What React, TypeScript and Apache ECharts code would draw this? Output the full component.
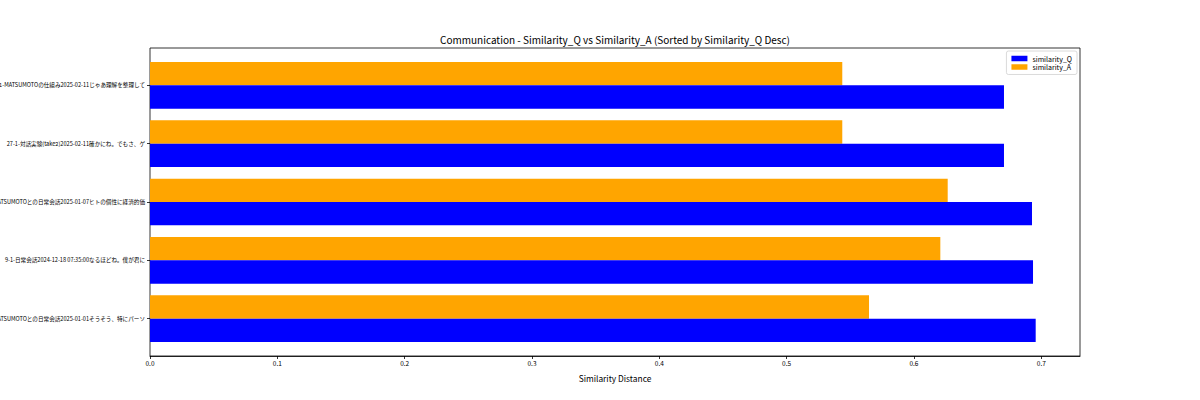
import { useEffect, useRef } from 'react'
import * as echarts from 'echarts'

// categories listed top to bottom, as in the picture
const categories = [
  '28-1-MATSUMOTOの仕組み2025-02-11じゃあ理解を整理して',
  '27-1-対話実験(take2)2025-02-11確かにね。でもさ、ゲ',
  '30-1-MATSUMOTOとの日常会話2025-01-07ヒトの個性に経済的価',
  '9-1-日常会話2024-12-18 07:35:00なるほどね。僕が君に',
  '26-1-MATSUMOTOとの日常会話2025-01-01そうそう、特にパーソ',
]
const similarityQ = [0.6707, 0.6707, 0.6927, 0.6935, 0.6956]
const similarityA = [0.5437, 0.5437, 0.6265, 0.6207, 0.5647]
const xTicks = [0, 0.1, 0.2, 0.3, 0.4, 0.5, 0.6, 0.7]
const xMax = 0.7304

const FONT = 'Noto Sans CJK JP'

export default function App() {
  const chartRef = useRef<HTMLDivElement>(null)

  useEffect(() => {
    if (!chartRef.current) return
    const chart = echarts.init(chartRef.current, undefined, { renderer: 'svg' })

    const option = {
      animation: false,
      textStyle: { fontFamily: FONT },
      title: {
        text: 'Communication - Similarity_Q vs Similarity_A (Sorted by Similarity_Q Desc)',
        left: 615,
        top: 34,
        padding: 0,
        textAlign: 'center',
        textStyle: { fontSize: 10, fontWeight: 'normal', color: '#000', fontFamily: FONT },
      },
      legend: {
        data: ['similarity_Q', 'similarity_A'],
        orient: 'vertical',
        right: 123,
        top: 51,
        icon: 'rect',
        itemWidth: 16,
        itemHeight: 5.5,
        itemGap: 1.5,
        padding: [4, 5, 4, 5],
        backgroundColor: '#fff',
        borderColor: '#d0d0d0',
        borderWidth: 0.8,
        borderRadius: 2,
        textStyle: { fontSize: 7, color: '#000', fontFamily: FONT },
      },
      grid: [
        { left: 150, width: 930, top: 56.17, height: 291.67, outerBoundsMode: 'none', containLabel: false },
        {
          left: 150, width: 930, top: 48, height: 308,
          outerBoundsMode: 'none', containLabel: false,
          show: true, borderColor: '#000', borderWidth: 0.8, backgroundColor: 'transparent',
        },
      ],
      xAxis: [
        { type: 'value', gridIndex: 0, min: 0, max: xMax, show: false },
        {
          type: 'value',
          gridIndex: 1,
          min: 0,
          max: xMax,
          name: 'Similarity Distance',
          nameLocation: 'middle',
          nameGap: 18,
          nameTextStyle: { fontSize: 8.4, color: '#000', fontFamily: FONT },
          axisLine: { show: true, lineStyle: { color: '#000', width: 0.8 } },
          axisTick: { show: true, length: 3, customValues: xTicks, lineStyle: { color: '#000', width: 0.8 } },
          axisLabel: {
            customValues: xTicks,
            formatter: (v: number) => v.toFixed(1),
            fontSize: 6.5,
            color: '#000',
            margin: 4,
            fontFamily: FONT,
          },
          splitLine: { show: false },
        },
      ],
      yAxis: [
        {
          type: 'category',
          gridIndex: 0,
          data: categories,
          inverse: true,
          axisLine: { show: false },
          axisTick: { show: true, alignWithLabel: true, length: 3, lineStyle: { color: '#000', width: 0.8 } },
          axisLabel: { fontSize: 5.6, color: '#000', margin: 5, fontFamily: FONT },
        },
        { type: 'value', gridIndex: 1, show: false },
      ],
      series: [
        {
          name: 'similarity_A',
          type: 'bar',
          xAxisIndex: 0,
          yAxisIndex: 0,
          data: similarityA,
          barGap: '0%',
          barCategoryGap: '20%',
          itemStyle: { color: '#ffa500' },
        },
        {
          name: 'similarity_Q',
          type: 'bar',
          xAxisIndex: 0,
          yAxisIndex: 0,
          data: similarityQ,
          barGap: '0%',
          barCategoryGap: '20%',
          itemStyle: { color: '#0000ff' },
        },
      ],
    }

    chart.setOption(option)
    return () => chart.dispose()
  }, [])

  return (
    <div
      ref={chartRef}
      style={{ position: 'fixed', left: 0, top: 0, width: 1200, height: 400, background: '#fff' }}
    />
  )
}
